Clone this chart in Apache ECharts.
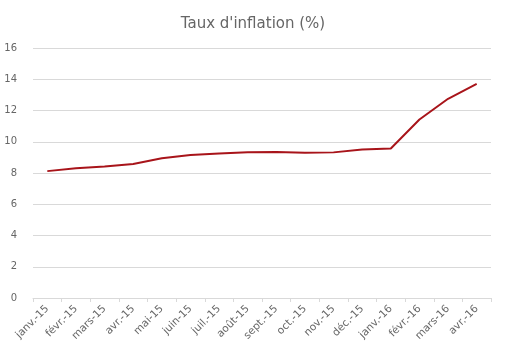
<!DOCTYPE html>
<html><head><meta charset="utf-8">
<script src="https://cdn.jsdelivr.net/npm/echarts@6/dist/echarts.min.js"></script>
<style>html,body{margin:0;padding:0;background:#fff}#c{width:506px;height:358px}</style>
</head><body><div id="c"></div>
<script>
const categories = ['janv.-15','févr.-15','mars-15','avr.-15','mai-15','juin-15','juil.-15','août-15','sept.-15','oct.-15','nov.-15','déc.-15','janv.-16','févr.-16','mars-16','avr.-16'];
const inflation = [8.12, 8.3, 8.42, 8.58, 8.95, 9.15, 9.25, 9.33, 9.35, 9.3, 9.32, 9.5, 9.57, 11.42, 12.75, 13.7];
const yTicks = [0, 2, 4, 6, 8, 10, 12, 14, 16];

const chart = echarts.init(document.getElementById('c'), null, {renderer:'canvas'});
chart.setOption({
  animation: false,
  title: {text: "Taux d'inflation (%)", left: 'center', top: 12,
    textStyle: {fontFamily: 'DejaVu Sans', fontWeight: 'normal', fontSize: 15, color: '#666666'}},
  grid: {left: 33, right: 15, top: 48, bottom: 60},
  xAxis: {type: 'category', data: categories, boundaryGap: true,
    axisLine: {lineStyle: {color: '#d9d9d9'}},
    axisTick: {show: true, length: 4, lineStyle: {color: '#d9d9d9'}},
    axisLabel: {rotate: 45, interval: 0, fontFamily: 'DejaVu Sans', fontSize: 10.5, color: '#666666', margin: 9}},
  yAxis: {type: 'value', min: yTicks[0], max: yTicks[yTicks.length-1], interval: 2,
    axisLine: {show: false}, axisTick: {show: false},
    splitLine: {lineStyle: {color: '#d9d9d9'}},
    axisLabel: {fontFamily: 'DejaVu Sans', fontSize: 10, color: '#666666', margin: 16}},
  series: [{type: 'line', data: inflation, symbol: 'none', smooth: false,
    lineStyle: {color: '#a8141a', width: 2}}]
});
</script></body></html>
